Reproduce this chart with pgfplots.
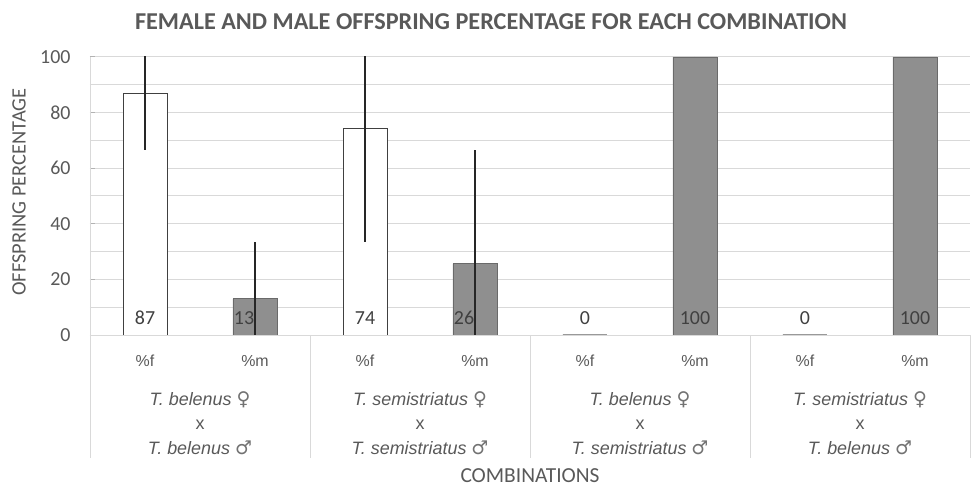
\documentclass[border=0pt]{standalone}
\usepackage{fontspec}
\setmainfont{Carlito}
\newfontfamily\arialf{Liberation Sans}
\newfontfamily\symf{DejaVu Sans}
\usepackage{pgfplots}
\pgfplotsset{compat=1.18}
\definecolor{txt}{HTML}{595959}
\definecolor{gridc}{HTML}{D9D9D9}
\definecolor{barg}{HTML}{8F8F8F}
\definecolor{bargo}{HTML}{6A6A6A}
\definecolor{edge}{HTML}{404040}
\newcommand{\fem}{{\upshape\symf\fontsize{19}{17}\selectfont\color{txt!85}♀}}
\newcommand{\mal}{{\upshape\symf\fontsize{19}{17}\selectfont\color{txt!85}♂}}
\begin{document}
\begin{tikzpicture}
\path[use as bounding box] (-90bp,-153bp) rectangle (881bp,335bp);
\begin{axis}[
  scale only axis, width=880bp, height=278bp,
  xmin=-0.5, xmax=7.5, ymin=0, ymax=100,
  axis x line*=bottom, axis y line*=left,
  axis line style={draw=gridc, line width=1pt},
  ytick={0,20,...,100}, minor ytick={10,30,...,90},
  ymajorgrids, yminorgrids,
  major grid style={draw=gridc, line width=1pt},
  minor grid style={draw=gridc, line width=1pt},
  major tick length=5bp, minor tick length=0pt, tick align=inside,
  ytick style={draw=black!30, line width=1pt},
  xtick style={draw=none},
  xtick={0,...,7},
  xticklabels={\%f,\%m,\%f,\%m,\%f,\%m,\%f,\%m},
  xticklabel style={font=\arialf\fontsize{16}{18}\selectfont, text=txt, anchor=base, yshift=-32bp},
  yticklabel style={font=\fontsize{20}{22}\selectfont, text=txt, xshift=-16bp},
  /pgf/number format/assume math mode=true,
]
\addplot[ybar, bar width=44bp, bar shift=0pt, fill=white, draw=edge, line width=0.8pt,
  error bars/.cd, y dir=both, y explicit, error mark=none,
  error bar style={line width=1.6pt, draw=black!85}]
  coordinates {(0,87) +- (0,20.5) (2,74.4) +- (0,41)};
\addplot[ybar, bar width=44bp, bar shift=0pt, fill=white, draw=black!40, line width=1.2pt]
  coordinates {(4,0) (6,0)};
\addplot[ybar, bar width=44bp, bar shift=0pt, fill=barg, draw=bargo, line width=0.8pt,
  error bars/.cd, y dir=both, y explicit, error mark=none,
  error bar style={line width=1.6pt, draw=black!85}]
  coordinates {(1,13) +- (0,20.5) (3,25.6) +- (0,41) (5,100) +- (0,0) (7,100) +- (0,0)};
\begin{scope}[every node/.style={font=\fontsize{20}{22}\selectfont, text=edge}]
\node at (axis cs:0,6.1) {87};
\node at (axis cs:0.9,6.1) {13};
\node at (axis cs:2,6.1) {74};
\node at (axis cs:2.9,6.1) {26};
\node at (axis cs:4,6.1) {0};
\node at (axis cs:5,6.1) {100};
\node at (axis cs:6,6.1) {0};
\node at (axis cs:7,6.1) {100};
\end{scope}
\end{axis}
% separators
\foreach \x in {0,220,440,660,880} \draw[gridc, line width=1pt] (\x bp,0) -- (\x bp,-123bp);
% group labels
\begin{scope}[every node/.style={font=\arialf\itshape\fontsize{18}{24.5}\selectfont, text=txt, align=center}]
\node at (110bp,-88bp) {T. belenus \fem\\{\upshape x}\\T. belenus \mal};
\node at (330bp,-88bp) {T. semistriatus \fem\\{\upshape x}\\T. semistriatus \mal};
\node at (550bp,-88bp) {T. belenus \fem\\{\upshape x}\\T. semistriatus \mal};
\node at (770bp,-88bp) {T. semistriatus \fem\\{\upshape x}\\T. belenus \mal};
\end{scope}
% titles
\node[font=\bfseries\fontsize{24.3}{28}\selectfont, text=txt] at (401bp,313bp) {FEMALE AND MALE OFFSPRING PERCENTAGE FOR EACH COMBINATION};
\node[font=\fontsize{20.5}{24}\selectfont, text=txt, rotate=90] at (-71bp,143bp) {OFFSPRING PERCENTAGE};
\node[font=\fontsize{21.5}{24}\selectfont, text=txt, inner sep=0pt, anchor=base] at (440bp,-147bp) {COMBINATIONS};
\end{tikzpicture}
\end{document}
